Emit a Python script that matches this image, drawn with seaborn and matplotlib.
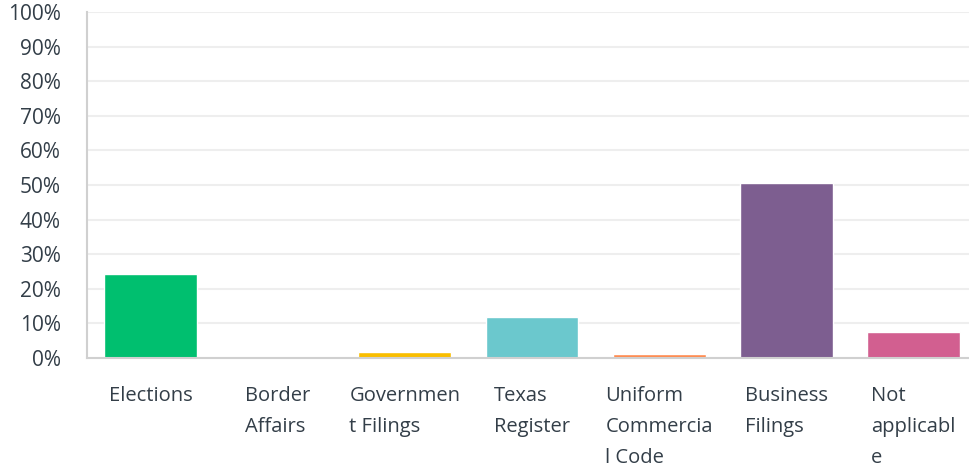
import pandas as pd
import matplotlib.pyplot as plt
import seaborn as sns
from matplotlib.ticker import PercentFormatter

# answer categories and share of responses (%)
categories = ['Elections', 'Border Affairs', 'Government Filings', 'Texas Register',
              'Uniform Commercial Code', 'Business Filings', 'Not applicable']
tick_labels = ['Elections', 'Border\nAffairs', 'Governmen\nt Filings', 'Texas\nRegister',
               'Uniform\nCommercia\nl Code', 'Business\nFilings', 'Not\napplicabl\ne']
shares = [24.3, 0.0, 1.7, 11.9, 1.2, 50.6, 7.5]
colors = ['#00BF6F', '#507CB6', '#F9BE00', '#6BC8CD', '#FF8B4F', '#7D5E90', '#D25F90']

df = pd.DataFrame({'category': categories, 'share': shares})

sns.set_theme(style='white')
plt.rcParams['font.family'] = ['Open Sans', 'DejaVu Sans']
text_color = '#333E48'

fig = plt.figure(figsize=(9.69, 4.70), dpi=100)
ax = fig.add_axes([0.0898, 0.2383, 0.9102, 0.7362])

sns.barplot(data=df, x='category', y='share', hue='category', palette=colors,
            legend=False, width=0.73, saturation=1, ax=ax)

ax.set_ylim(0, 100)
ax.set_xlim(-0.5, 6.437)
ax.set_yticks(range(0, 101, 10))
ax.yaxis.set_major_formatter(PercentFormatter(decimals=0))
ax.set_xticks(range(len(categories)))
ax.set_xticklabels(tick_labels, multialignment='left', linespacing=1.75)
ax.set_xlabel('')
ax.set_ylabel('')

ax.grid(axis='y', color='#EEEEEE', linewidth=1.5)
ax.set_axisbelow(True)
for side in ['top', 'right']:
    ax.spines[side].set_visible(False)
for side in ['left', 'bottom']:
    ax.spines[side].set_color('#D0D0D0')
    ax.spines[side].set_linewidth(1.5)

ax.tick_params(axis='y', length=0, pad=19, labelsize=15, labelcolor=text_color)
ax.tick_params(axis='x', length=0, pad=20, labelsize=14.5, labelcolor=text_color)

fig.savefig('out.png', dpi=100)
